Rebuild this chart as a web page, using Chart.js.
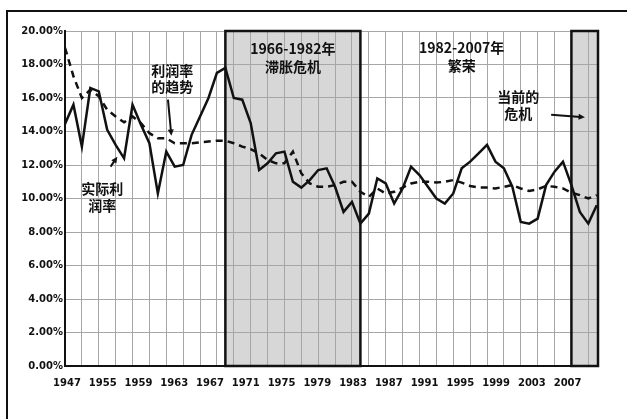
<!DOCTYPE html>
<html>
<head>
<meta charset="utf-8">
<script src="https://cdn.jsdelivr.net/npm/chart.js@4.4.1/dist/chart.umd.min.js"></script>
<style>
  html, body { margin: 0; padding: 0; background: #fff; }
  #wrap { width: 627px; height: 419px; position: relative; }
</style>
</head>
<body>
<div id="wrap"><canvas id="chart"></canvas></div>
<script>
// ------- Data -------
const YEARS = [
  1947, 1948, 1949, 1950, 1951, 1952, 1953, 1954, 1955, 1956,
  1957, 1958, 1959, 1960, 1961, 1962, 1963, 1964, 1965, 1966,
  1967, 1968, 1969, 1970, 1971, 1972, 1973, 1974, 1975, 1976,
  1977, 1978, 1979, 1980, 1981, 1982, 1983, 1984, 1985, 1986,
  1987, 1988, 1989, 1990, 1991, 1992, 1993, 1994, 1995, 1996,
  1997, 1998, 1999, 2000, 2001, 2002, 2003, 2004, 2005, 2006,
  2007, 2008, 2009, 2010
];

// 实际利润率 (%)
const ACTUAL_RATE = [
  14.45, 15.6, 13.1, 16.6, 16.4, 14.1, 13.2, 12.4, 15.6, 14.4,
  13.3, 10.3, 12.8, 11.9, 12.0, 13.8, 14.9, 16.0, 17.5, 17.8,
  16.0, 15.9, 14.5, 11.7, 12.1, 12.7, 12.8, 11.0, 10.65, 11.1,
  11.7, 11.8, 10.7, 9.2, 9.8, 8.5, 9.1, 11.2, 10.9, 9.7,
  10.6, 11.9, 11.4, 10.7, 10.0, 9.7, 10.3, 11.8, 12.2, 12.7,
  13.2, 12.2, 11.8, 10.7, 8.6, 8.5, 8.8, 10.8, 11.6, 12.2,
  10.8, 9.2, 8.5, 9.6
];

// 利润率的趋势 (%)
const TREND_RATE = [
  19.0, 17.3, 16.0, 16.5, 16.1, 15.3, 14.9, 14.55, 14.9, 14.5,
  13.9, 13.6, 13.6, 13.3, 13.3, 13.3, 13.35, 13.4, 13.45, 13.45,
  13.3, 13.1, 12.95, 12.7, 12.3, 12.1, 12.1, 12.8, 11.5, 10.9,
  10.7, 10.7, 10.8, 11.0, 11.0, 10.4, 10.1, 10.6, 10.3, 10.4,
  10.65, 10.9, 11.0, 11.0, 10.95, 11.0, 11.1, 10.95, 10.75, 10.65,
  10.65, 10.6, 10.7, 10.8, 10.6, 10.45, 10.55, 10.75, 10.7, 10.6,
  10.35, 10.2, 10.0, 10.2
];

const X_LABELS = ['1947', '1955', '1959', '1963', '1967', '1971', '1975', '1979',
                  '1983', '1987', '1991', '1995', '1999', '2003', '2007'];
const GRID_YEARS = [];
for (let y = 1947; y <= 2010; y += 2) GRID_YEARS.push(y);

// shaded periods (start year, end year; null = to axis end)
const PERIOD_FROM = [1966, 2007];
const PERIOD_TO = [1982, null];

const X_MIN = 1947, X_MAX = 2010.15;

// ------- Annotations (data coordinates) -------
const NOTES = [
  { lines: ['1966-1982年', '滞胀危机'], x: 1974, y: [18.95, 17.85] },
  { lines: ['1982-2007年', '繁荣'], x: 1994, y: [19.0, 17.95] },
  { lines: ['当前的', '危机'], x: 2000.7, y: [16.05, 15.05] },
  { lines: ['利润率', '的趋势'], x: 1959.7, y: [17.65, 16.7] },
  { lines: ['实际利', '润率'], x: 1951.4, y: [10.6, 9.6] }
];
const ARROWS = [
  { from: [2004.6, 15.0], to: [2008.6, 14.85] },
  { from: [1959.2, 15.9], to: [1959.6, 13.75] },
  { from: [1952.4, 11.9], to: [1953.2, 12.5] }
];

// ------- Plugins -------
const framePlugin = {
  id: 'frame',
  beforeDraw(chart) {
    const { ctx, width, height, chartArea: a, scales } = chart;
    ctx.save();
    ctx.fillStyle = '#fff';
    ctx.fillRect(0, 0, width, height);
    ctx.strokeStyle = '#111';
    ctx.lineWidth = 2;
    ctx.beginPath();
    ctx.moveTo(width, 11);
    ctx.lineTo(7, 11);
    ctx.lineTo(7, height);
    ctx.stroke();
    // shaded periods
    ctx.fillStyle = '#d7d7d7';
    PERIOD_FROM.forEach((from, i) => {
      const x1 = scales.x.getPixelForValue(from);
      const x2 = PERIOD_TO[i] === null ? a.right : scales.x.getPixelForValue(PERIOD_TO[i]);
      ctx.fillRect(x1, a.top, x2 - x1, a.bottom - a.top);
    });
    ctx.restore();
  },
  beforeDatasetsDraw(chart) {
    const { ctx, chartArea: a, scales } = chart;
    ctx.save();
    ctx.strokeStyle = '#111';
    ctx.lineWidth = 2.5;
    PERIOD_FROM.forEach((from, i) => {
      const x1 = scales.x.getPixelForValue(from);
      const x2 = PERIOD_TO[i] === null ? a.right : scales.x.getPixelForValue(PERIOD_TO[i]);
      ctx.strokeRect(x1, a.top, x2 - x1, a.bottom - a.top);
    });
    ctx.restore();
  },
  afterDatasetsDraw(chart) {
    const { ctx, scales } = chart;
    const px = v => scales.x.getPixelForValue(v);
    const py = v => scales.y.getPixelForValue(v);
    ctx.save();
    ctx.fillStyle = '#111';
    ctx.font = 'bold 14px "Noto Sans CJK SC", "DejaVu Sans", sans-serif';
    ctx.textAlign = 'center';
    ctx.textBaseline = 'middle';
    NOTES.forEach(n => {
      n.lines.forEach((t, i) => ctx.fillText(t, px(n.x), py(n.y[i])));
    });
    ctx.strokeStyle = '#111';
    ctx.lineWidth = 2;
    ARROWS.forEach(ar => {
      const x1 = px(ar.from[0]), y1 = py(ar.from[1]);
      const x2 = px(ar.to[0]), y2 = py(ar.to[1]);
      const ang = Math.atan2(y2 - y1, x2 - x1);
      const head = 7;
      ctx.beginPath();
      ctx.moveTo(x1, y1);
      ctx.lineTo(x2 - Math.cos(ang) * head * 0.6, y2 - Math.sin(ang) * head * 0.6);
      ctx.stroke();
      ctx.beginPath();
      ctx.moveTo(x2, y2);
      ctx.lineTo(x2 - head * Math.cos(ang - 0.45), y2 - head * Math.sin(ang - 0.45));
      ctx.lineTo(x2 - head * Math.cos(ang + 0.45), y2 - head * Math.sin(ang + 0.45));
      ctx.closePath();
      ctx.fill();
    });
    ctx.restore();
  }
};

// ------- Chart -------
const tickFont = { family: '"DejaVu Sans", sans-serif', size: 10, weight: 'bold' };

new Chart(document.getElementById('chart'), {
  type: 'line',
  data: {
    datasets: [
      {
        label: '利润率的趋势',
        data: YEARS.map((yr, i) => ({ x: yr, y: TREND_RATE[i] })),
        borderColor: '#111',
        borderWidth: 2.5,
        borderDash: [7, 5],
        pointRadius: 0,
        tension: 0
      },
      {
        label: '实际利润率',
        data: YEARS.map((yr, i) => ({ x: yr, y: ACTUAL_RATE[i] })),
        borderColor: '#111',
        borderWidth: 2.5,
        pointRadius: 0,
        tension: 0
      }
    ]
  },
  options: {
    responsive: true,
    maintainAspectRatio: false,
    animation: false,
    layout: { padding: { left: 0, top: 31, right: 29, bottom: 0 } },
    plugins: { legend: { display: false }, tooltip: { enabled: false } },
    scales: {
      x: {
        type: 'linear',
        position: 'bottom',
        min: X_MIN,
        max: X_MAX,
        afterBuildTicks: axis => { axis.ticks = GRID_YEARS.map(v => ({ value: v })); },
        afterFit: axis => { axis.height = 0; },
        ticks: { display: false },
        grid: { color: '#a6a6a6', lineWidth: 1, drawTicks: false },
        border: { color: '#111', width: 2 }
      },
      xl: {
        type: 'linear',
        position: 'bottom',
        min: -0.056,
        max: 14.85,
        afterBuildTicks: axis => { axis.ticks = X_LABELS.map((_, i) => ({ value: i })); },
        afterFit: axis => { axis.height = 53; },
        ticks: {
          autoSkip: false,
          maxRotation: 0,
          padding: 11,
          color: '#111',
          font: tickFont,
          callback: v => X_LABELS[v]
        },
        grid: { display: false, drawTicks: false },
        border: { display: false }
      },
      y: {
        min: 0,
        max: 20,
        afterFit: axis => { axis.width = 65; },
        ticks: {
          stepSize: 2,
          padding: 2,
          color: '#111',
          font: tickFont,
          callback: v => v.toFixed(2) + '%'
        },
        grid: { color: '#a6a6a6', lineWidth: 1, drawTicks: false },
        border: { color: '#111', width: 2 }
      }
    }
  },
  plugins: [framePlugin]
});
</script>
</body>
</html>
